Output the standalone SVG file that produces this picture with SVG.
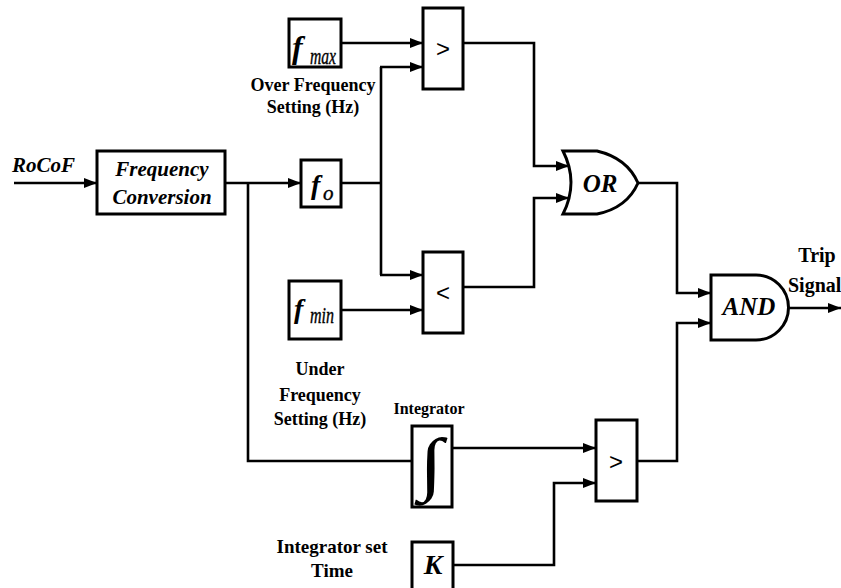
<svg xmlns="http://www.w3.org/2000/svg" width="841" height="588" viewBox="0 0 841 588">
<defs>
<marker id="ah" markerUnits="userSpaceOnUse" markerWidth="13" markerHeight="10" refX="13" refY="5" orient="auto">
<path d="M0,0 L13,5 L0,10 z" fill="#000"/>
</marker>
<style>
.box{fill:#fff;stroke:#000;stroke-width:3}
.ln{fill:none;stroke:#000;stroke-width:2.6}
.arr{marker-end:url(#ah)}
.lbl{font-family:"Liberation Serif","Times New Roman",serif;font-weight:bold;fill:#000}
.it{font-family:"Liberation Serif","Times New Roman",serif;font-weight:bold;font-style:italic;fill:#000}
.sub{font-family:"Liberation Serif","Times New Roman",serif;font-style:italic;fill:#000;stroke:#000;stroke-width:0.4}
.intg{font-family:"Liberation Serif","Times New Roman",serif;fill:#000;text-anchor:middle}
.cmp{font-family:"Liberation Sans",Arial,sans-serif;font-size:24px;fill:#000;text-anchor:middle}
.mid{text-anchor:middle}
</style>
</defs>
<rect width="841" height="588" fill="#fff"/>
<g id="connectors">
<path class="ln arr" d="M14,183 H97"/>
<path class="ln arr" d="M225,183 H301"/>
<path class="ln" d="M248,183 V461 H412"/>
<path class="ln" d="M341,183 H381"/>
<path class="ln" d="M381,67 V275"/>
<path class="ln arr" d="M380,67 H423"/>
<path class="ln arr" d="M380,275 H423"/>
<path class="ln arr" d="M341,43 H423"/>
<path class="ln arr" d="M341,310 H423"/>
<path class="ln arr" d="M463,43 H534 V166 H569"/>
<path class="ln arr" d="M463,287 H534 V198 H569"/>
<path class="ln arr" d="M637,183 H677 V293 H711"/>
<path class="ln arr" d="M637,461 H677 V323 H711"/>
<path class="ln arr" d="M453,448 H596"/>
<path class="ln arr" d="M453,565 H554 V483 H596"/>
<path class="ln arr" d="M789,308 H841"/>
</g>
<g id="rocof">
<text class="it" x="12" y="172" font-size="21">RoCoF</text>
</g>
<g id="freq-conversion">
<rect class="box" x="97" y="151" width="128" height="63"/>
<text class="it mid" x="162" y="176" font-size="21">Frequency</text>
<text class="it mid" x="162" y="204" font-size="21">Conversion</text>
</g>
<g id="fo">
<rect class="box" x="301" y="160" width="40" height="47"/>
<text class="it" x="311" y="194" font-size="28">f</text>
<text class="sub" x="323" y="200" font-size="21">o</text>
</g>
<g id="fmax">
<rect class="box" x="289" y="19" width="52" height="48"/>
<text class="it" x="292" y="58" font-size="32">f</text>
<text class="sub" x="310" y="64" font-size="24" textLength="26" lengthAdjust="spacingAndGlyphs">max</text>
<text class="lbl mid" x="313" y="91" font-size="18">Over Frequency</text>
<text class="lbl mid" x="313" y="113" font-size="18">Setting (Hz)</text>
</g>
<g id="fmin">
<rect class="box" x="289" y="281" width="52" height="58"/>
<text class="it" x="294" y="318" font-size="28">f</text>
<text class="sub" x="310" y="323" font-size="24" textLength="24" lengthAdjust="spacingAndGlyphs">min</text>
<text class="lbl mid" x="320" y="375" font-size="18">Under</text>
<text class="lbl mid" x="320" y="401" font-size="18">Frequency</text>
<text class="lbl mid" x="320" y="425" font-size="18">Setting (Hz)</text>
</g>
<g id="cmp-over">
<rect class="box" x="423" y="8" width="40" height="81"/>
<text class="cmp" x="443" y="57">&gt;</text>
</g>
<g id="cmp-under">
<rect class="box" x="423" y="252" width="40" height="81"/>
<text class="cmp" x="443" y="301">&lt;</text>
</g>
<g id="or-gate">
<path class="box" d="M563,151 L597,151 Q627,158 638,183 Q627,208 597,214 L563,214 Q579,182.5 563,151 Z"/>
<text class="it mid" x="600" y="192" font-size="25">OR</text>
</g>
<g id="and-gate">
<path class="box" d="M711,275 H756 A32.5,32.5 0 0 1 756,340 H711 Z"/>
<text class="it mid" x="749" y="315" font-size="25">AND</text>
<text class="lbl mid" x="817" y="262" font-size="20">Trip</text>
<text class="lbl" x="788" y="292" font-size="20">Signal</text>
</g>
<g id="integrator">
<rect class="box" x="412" y="426" width="40" height="81"/>
<text class="intg" x="0" y="487" font-size="70" transform="translate(431,0) scale(1.25,1)">∫</text>
<text class="lbl mid" x="429" y="414" font-size="16">Integrator</text>
</g>
<g id="k-const">
<rect class="box" x="412" y="542" width="41" height="52"/>
<text class="it mid" x="433" y="574" font-size="28">K</text>
<text class="lbl mid" x="332" y="553" font-size="19">Integrator set</text>
<text class="lbl mid" x="332" y="577" font-size="19">Time</text>
</g>
<g id="cmp-timer">
<rect class="box" x="596" y="420" width="41" height="81"/>
<text class="cmp" x="616" y="470">&gt;</text>
</g>
</svg>
